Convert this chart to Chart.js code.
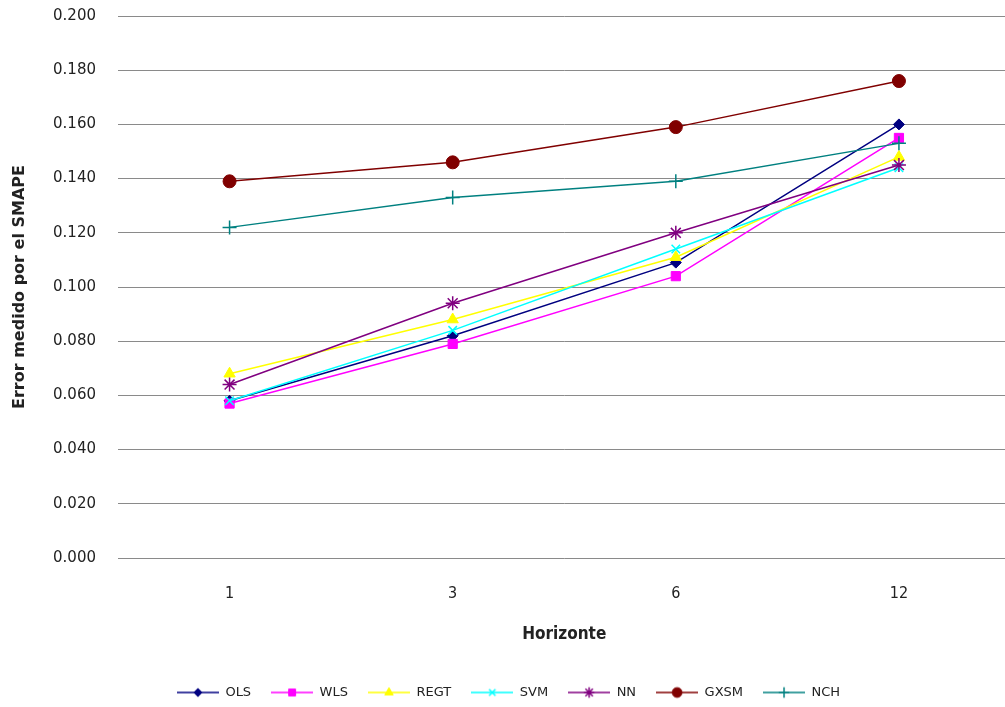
<!DOCTYPE html>
<html><head><meta charset="utf-8">
<script src="https://cdn.jsdelivr.net/npm/chart.js@4.4.1/dist/chart.umd.min.js"></script>
<style>
html,body{margin:0;padding:0;background:#fff;overflow:hidden;width:1005px;height:707px}
#wrap{width:1005px;height:707px;overflow:hidden;position:relative}
canvas{display:block}
</style></head>
<body><div id="wrap"><canvas id="c" width="1019" height="709"></canvas></div>
<script>
// ---- data ----
const horizons = ['1', '3', '6', '12'];
const seriesNames = ['OLS', 'WLS', 'REGT', 'SVM', 'NN', 'GXSM', 'NCH'];
const olsValues  = [0.058, 0.082, 0.109, 0.160];
const wlsValues  = [0.057, 0.079, 0.104, 0.155];
const regtValues = [0.068, 0.088, 0.111, 0.148];
const svmValues  = [0.058, 0.084, 0.114, 0.144];
const nnValues   = [0.064, 0.094, 0.120, 0.145];
const gxsmValues = [0.139, 0.146, 0.159, 0.176];
const nchValues  = [0.122, 0.133, 0.139, 0.153];
const yMin = 0, yMax = 0.2, yStep = 0.02;
const xTitle = 'Horizonte';
const yTitle = 'Error medido por el SMAPE';

// ---- styles ----
const allValues = [olsValues, wlsValues, regtValues, svmValues, nnValues, gxsmValues, nchValues];
const colors = ['#000080', '#FF00FF', '#FFFF00', '#00FFFF', '#800080', '#800000', '#008080'];
const markers = ['rectRot', 'rect', 'triangle', 'crossRot', 'star', 'circle', 'cross'];
const radii = [5.5, 6.5, 6.5, 6, 7, 6.5, 7];
const markerBorder = [1, 1, 1, 1.5, 1.5, 1, 1.5];
const LEG_W = 42;

function legendImage(i) {
  const c = document.createElement('canvas');
  c.width = LEG_W; c.height = 16;
  const ctx = c.getContext('2d');
  ctx.strokeStyle = colors[i];
  ctx.lineWidth = 1.5;
  ctx.beginPath(); ctx.moveTo(0, 8); ctx.lineTo(LEG_W, 8); ctx.stroke();
  ctx.fillStyle = colors[i];
  ctx.strokeStyle = colors[i];
  ctx.lineWidth = markerBorder[i];
  Chart.helpers.drawPoint(ctx, {pointStyle: markers[i], rotation: 0, radius: radii[i] * 0.75, borderWidth: markerBorder[i]}, LEG_W / 2, 8);
  return c;
}

const datasets = seriesNames.map((name, i) => ({
  label: name,
  data: allValues[i],
  borderColor: colors[i],
  backgroundColor: colors[i],
  borderWidth: 1.5,
  pointStyle: markers[i],
  pointRadius: radii[i],
  pointHoverRadius: radii[i],
  pointBackgroundColor: colors[i],
  pointBorderColor: colors[i],
  pointBorderWidth: markerBorder[i],
  tension: 0,
  order: -i
}));

const tickFont = {family: "'DejaVu Sans', sans-serif", size: 15};
const textColor = '#222';

new Chart(document.getElementById('c'), {
  type: 'line',
  data: {labels: horizons, datasets},
  options: {
    responsive: false,
    animation: false,
    devicePixelRatio: 1,
    layout: {padding: {top: 16, right: 2, left: 0, bottom: 0}},
    plugins: {
      tooltip: {enabled: false},
      legend: {
        position: 'bottom',
        labels: {
          usePointStyle: true,
          pointStyleWidth: LEG_W,
          padding: 20,
          color: textColor,
          font: {family: "'DejaVu Sans', sans-serif", size: 13},
          generateLabels: (chart) => chart.data.datasets.map((ds, i) => ({
            text: ds.label,
            pointStyle: legendImage(i),
            fillStyle: colors[i],
            strokeStyle: colors[i],
            lineWidth: 0,
            hidden: false,
            datasetIndex: i,
            fontColor: textColor
          }))
        }
      }
    },
    scales: {
      x: {
        offset: true,
        grid: {display: false, drawTicks: false, offset: true},
        border: {display: false},
        ticks: {color: textColor, font: {family: "'Liberation Sans Narrow', 'DejaVu Sans Condensed', 'Liberation Sans', sans-serif", size: 16}, padding: 26},
        title: {display: true, text: xTitle, color: textColor,
          font: {family: "'DejaVu Sans Condensed', 'Liberation Sans', sans-serif", size: 17, weight: 'bold'},
          padding: {top: 0, bottom: 21}},
        afterFit: (s) => { s.height = 108; s.paddingLeft = 0; s.paddingRight = 0; }
      },
      y: {
        min: yMin, max: yMax,
        grid: {color: '#8a8a8a', lineWidth: 1, drawTicks: false},
        border: {display: false},
        ticks: {stepSize: yStep, color: textColor, font: tickFont, padding: 22,
          callback: (v) => Number(v).toFixed(3)},
        title: {display: true, text: yTitle, color: textColor,
          font: {family: "'DejaVu Sans', sans-serif", size: 16, weight: 'bold'},
          padding: {top: 10, bottom: 0}},
        afterFit: (s) => { s.width = 118; s.paddingTop = 0; s.paddingBottom = 0; }
      }
    }
  }
});
</script>
</body></html>
